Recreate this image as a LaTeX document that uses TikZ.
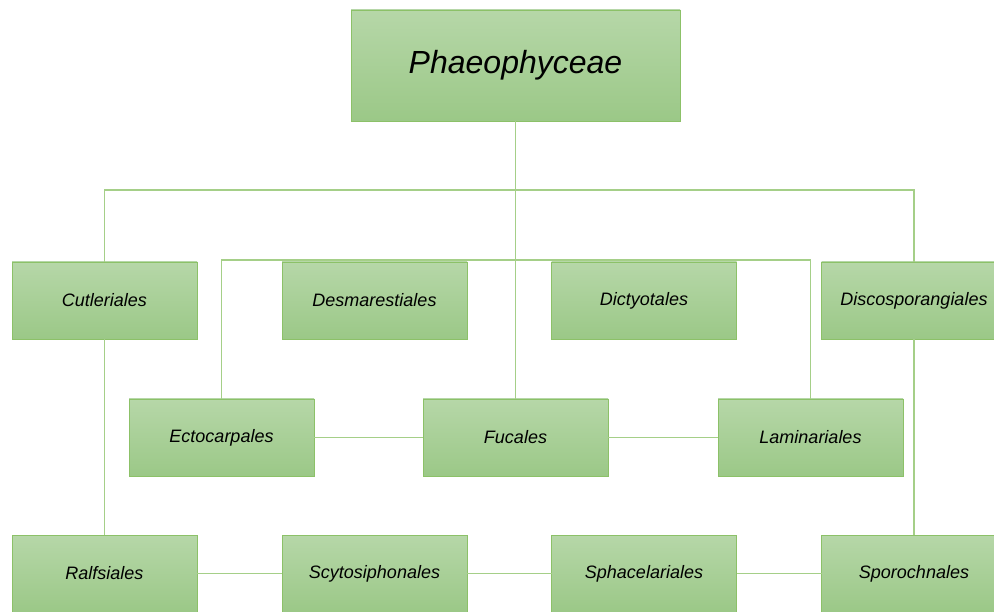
\documentclass[tikz,border=0pt]{standalone}
\usepackage{fontspec}
\setmainfont{Liberation Sans}
\definecolor{boxtop}{HTML}{B6D7A8}
\definecolor{boxbot}{HTML}{9BC887}
\definecolor{boxedge}{HTML}{8CC168}
\definecolor{linkline}{HTML}{A5CF88}
\tikzset{
  order/.style={draw=boxedge, line width=0.9pt, top color=boxtop, bottom color=boxbot,
    minimum width=185pt, minimum height=77pt, inner sep=0pt, outer sep=0pt,
    font=\fontsize{18}{20}\selectfont\itshape},
  link/.style={linkline, line width=1.9pt}
}
\begin{document}
\begin{tikzpicture}[x=1pt,y=-1pt]
    \clip (0,0) rectangle (994,612);
    \coordinate (barL) at (104.5,190);
    \coordinate (barR) at (914,190);
    \coordinate (barEL) at (221.5,260);
    \coordinate (barER) at (810.5,260);
    \node [order, minimum width=329pt, minimum height=111pt, font=\fontsize{32}{36}\selectfont\itshape] (phaeo) at (515.5,65.5) {Phaeophyceae};
    \node [order] (cut)  at (104.5,300.5) {Cutleriales};
    \node [order] (desm) at (374.5,300.5) {Desmarestiales};
    \node [order] (dict) at (644,300.5)   {Dictyotales};
    \node [order] (disc) at (914,300.5)   {Discosporangiales};
    \node [order] (ecto) at (221.5,437.5) {Ectocarpales};
    \node [order] (fuc)  at (515.5,437.5) {Fucales};
    \node [order] (lam)  at (810.5,437.5) {Laminariales};
    \node [order] (ralf) at (104.5,573.5) {Ralfsiales};
    \node [order] (scyt) at (374.5,573.5) {Scytosiphonales};
    \node [order] (spha) at (644,573.5)   {Sphacelariales};
    \node [order] (spor) at (914,573.5)   {Sporochnales};
    \draw [link] (phaeo.south) -- (fuc.north);
    \draw [link] (cut.north) -- (barL) -- (barR) -- (disc.north);
    \draw [link] (ecto.north) -- (barEL) -- (barER) -- (lam.north);
    \draw [link] (cut.south) -- (ralf.north);
    \draw [link] (disc.south) -- (spor.north);
    \draw [link] (ecto.east) -- (fuc.west);
    \draw [link] (fuc.east) -- (lam.west);
    \draw [link] (ralf.east) -- (scyt.west);
    \draw [link] (scyt.east) -- (spha.west);
    \draw [link] (spha.east) -- (spor.west);
\end{tikzpicture}
\end{document}
